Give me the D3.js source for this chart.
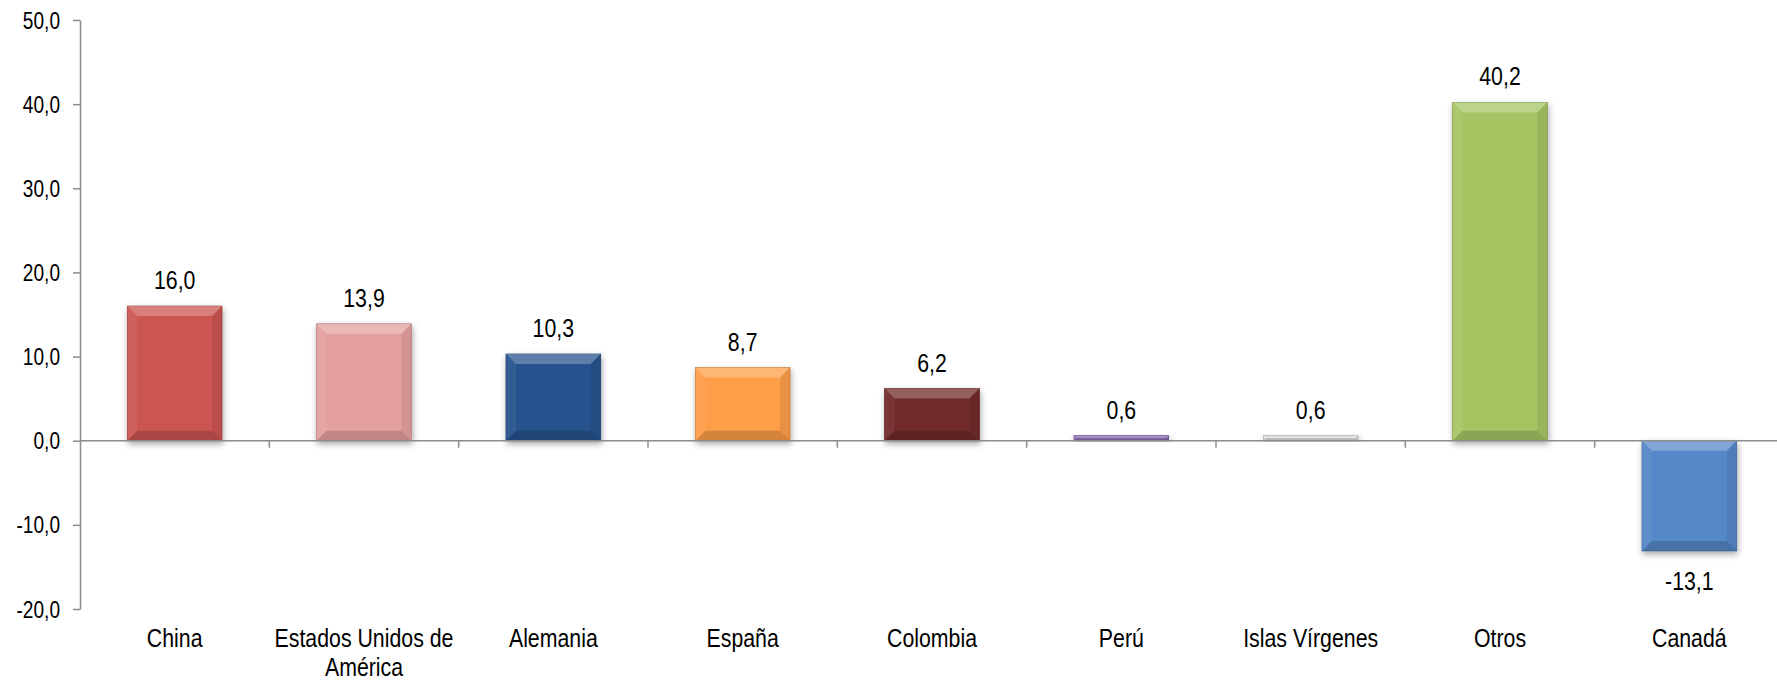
<!DOCTYPE html>
<html>
<head>
<meta charset="utf-8">
<script src="https://cdn.jsdelivr.net/npm/d3@7"></script>
<style>
	body { margin: 0; background: #fff; }
	text { font-family: 'Liberation Sans Narrow', 'Arial Narrow', 'Liberation Sans', Arial, sans-serif; fill: #000; }
</style>
</head>
<body>
<svg></svg>
<script>
const categories = ['China', 'Estados Unidos de América', 'Alemania', 'España', 'Colombia', 'Perú', 'Islas Vírgenes', 'Otros', 'Canadá'];
const values = [16.0, 13.9, 10.3, 8.7, 6.2, 0.6, 0.6, 40.2, -13.1];
const colors = ['#cb5451', '#e4a09e', '#27538d', '#fd9e48', '#722b2a', '#8a6bb0', '#d9d9d9', '#a5c564', '#5588c8'];
const yTicks = [-20, -10, 0, 10, 20, 30, 40, 50];

const svg = d3.select('svg')
	.attr('width', 1777)
	.attr('height', 683);

const tickFont = 23,
	  tickSqueeze = 0.83,
	  labelFont = 26,
	  labelSqueeze = 0.82;

const fmt = v => d3.format('.1f')(v).replace('.', ',').replace('−', '-');

// fake a narrow face: squeeze text horizontally round its anchor
const narrow = (sel, k) => sel.each(function () {
	const t = d3.select(this);
	const tx = +t.attr('x') || 0,
		  ty = +t.attr('y') || 0;
	t.attr('x', 0).attr('y', 0)
		.attr('transform', `translate(${tx},${ty}) scale(${k},1)`);
	t.selectAll('tspan').attr('x', 0);
});

const x = d3.scaleBand()
	.domain(categories)
	.range([80, 1784])
	.paddingInner(0.5)
	.paddingOuter(0.25);

const y = d3.scaleLinear()
	.domain([-20, 50])
	.range([609, 20]);

const defs = svg.append('defs');
defs.append('filter')
		.attr('id', 'shadow')
		.attr('x', '-20%').attr('y', '-20%')
		.attr('width', '140%').attr('height', '140%')
	.append('feDropShadow')
		.attr('dx', 1)
		.attr('dy', 3)
		.attr('stdDeviation', 3)
		.attr('flood-color', '#000')
		.attr('flood-opacity', 0.35);

// y axis
const yAxis = svg.append('g')
	.attr('transform', `translate(${x.range()[0]},0)`)
	.call(d3.axisLeft(y).tickValues(yTicks).tickFormat(fmt).tickSize(7).tickSizeOuter(0));
yAxis.select('.domain').attr('stroke', '#8c8c8c').attr('stroke-width', 1.5);
yAxis.selectAll('.tick line').attr('stroke', '#8c8c8c').attr('stroke-width', 1.5);
yAxis.selectAll('.tick text')
	.attr('x', -20)
	.attr('dy', '0.35em')
	.style('font-size', tickFont + 'px')
	.call(narrow, tickSqueeze);

// bars
const bars = svg.append('g')
	.selectAll('g')
	.data(values)
	.join('g');

bars.each(function (v, i) {
	const g = d3.select(this);
	const x0 = x(categories[i]);
	const w = x.bandwidth();
	const top = y(Math.max(0, v));
	const bot = y(Math.min(0, v));
	const h = bot - top;
	const b = Math.min(10, h / 2);

	g.append('rect')
		.attr('x', x0)
		.attr('y', top)
		.attr('width', w)
		.attr('height', h)
		.attr('fill', colors[i])
		.attr('stroke', d3.color(colors[i]).darker(0.6))
		.attr('stroke-width', 0.8)
		.attr('filter', 'url(#shadow)');

	const bevel = [
		{ pts: [[x0, top], [x0 + w, top], [x0 + w - b, top + b], [x0 + b, top + b]], fill: '#fff', op: 0.25 },
		{ pts: [[x0, top], [x0 + b, top + b], [x0 + b, bot - b], [x0, bot]], fill: '#fff', op: 0.06 },
		{ pts: [[x0 + w, top], [x0 + w, bot], [x0 + w - b, bot - b], [x0 + w - b, top + b]], fill: '#000', op: 0.08 },
		{ pts: [[x0, bot], [x0 + b, bot - b], [x0 + w - b, bot - b], [x0 + w, bot]], fill: '#000', op: 0.16 }
	];
	g.selectAll('polygon')
		.data(bevel)
		.join('polygon')
			.attr('points', d => d.pts.map(p => p.join(',')).join(' '))
			.attr('fill', d => d.fill)
			.attr('fill-opacity', d => d.op);

	g.append('text')
		.attr('x', x0 + w / 2)
		.attr('y', v >= 0 ? top - 17 : bot + 39)
		.attr('text-anchor', 'middle')
		.style('font-size', labelFont + 'px')
		.text(fmt(v))
		.call(narrow, labelSqueeze);
});

// x axis at zero
const xAxis = svg.append('g');
xAxis.append('line')
	.attr('x1', x.range()[0])
	.attr('x2', 1777)
	.attr('y1', y(0))
	.attr('y2', y(0))
	.attr('stroke', '#8c8c8c')
	.attr('stroke-width', 1.5);
xAxis.selectAll('line.tick')
	.data(d3.range(1, categories.length + 1))
	.join('line')
		.attr('class', 'tick')
		.attr('x1', i => x.range()[0] + i * x.step())
		.attr('x2', i => x.range()[0] + i * x.step())
		.attr('y1', y(0))
		.attr('y2', y(0) + 7)
		.attr('stroke', '#8c8c8c')
		.attr('stroke-width', 1.5);

// category labels, wrapped to band width
const labels = svg.append('g')
	.selectAll('text')
	.data(categories)
	.join('text')
		.attr('x', d => x(d) + x.bandwidth() / 2)
		.attr('y', y(-20) + 38)
		.attr('text-anchor', 'middle')
		.style('font-size', labelFont + 'px');

labels.each(function (d) {
	const t = d3.select(this);
	const words = d.split(' ');
	const maxW = x.step() * 0.98 / labelSqueeze;
	let line = [];
	let tspan = t.append('tspan').attr('x', t.attr('x')).attr('dy', 0);
	words.forEach(word => {
		line.push(word);
		tspan.text(line.join(' '));
		if (tspan.node().getComputedTextLength() > maxW && line.length > 1) {
			line.pop();
			tspan.text(line.join(' '));
			line = [word];
			tspan = t.append('tspan').attr('x', t.attr('x')).attr('dy', 29).text(word);
		}
	});
});
labels.call(narrow, labelSqueeze);
</script>
</body>
</html>
